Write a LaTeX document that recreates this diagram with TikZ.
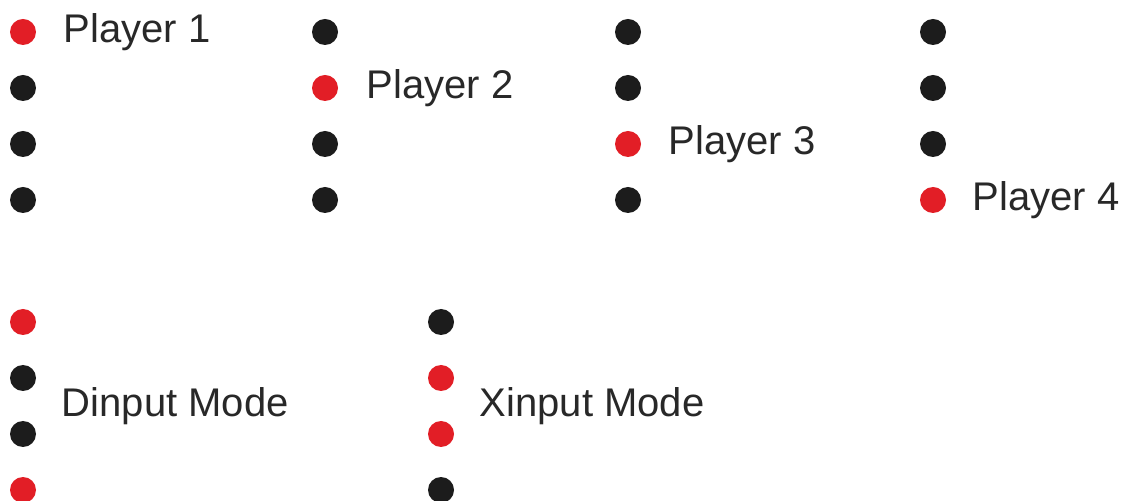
\documentclass[tikz,border=0pt]{standalone}
\usepackage{fontspec}
\setmainfont{Liberation Sans}
\usetikzlibrary{positioning}

\definecolor{ledred}{RGB}{226,30,38}
\definecolor{ledoff}{RGB}{28,28,28}
\definecolor{txt}{RGB}{40,40,40}

\tikzset{
  led/.style={circle,minimum size=13pt,inner sep=0pt},
  on/.style={led,fill=ledred},
  off/.style={led,fill=ledoff},
  lbl/.style={inner sep=0pt,text=txt,font=\fontsize{20}{22}\selectfont}
}

\begin{document}
\begin{tikzpicture}[x=1pt,y=1pt,node distance=28pt]
  \useasboundingbox (0,0) rectangle (561.5,-250.5);

  % player 1
  \node[on]  (p1a) at (11.5,-16) {};
  \node[off] (p1b) [below of=p1a] {};
  \node[off] (p1c) [below of=p1b] {};
  \node[off] (p1d) [below of=p1c] {};
  \node[lbl] (l1) [right=13.5pt of p1a] {Player 1};

  % player 2
  \node[off] (p2a) at (162.5,-16) {};
  \node[on]  (p2b) [below of=p2a] {};
  \node[off] (p2c) [below of=p2b] {};
  \node[off] (p2d) [below of=p2c] {};
  \node[lbl] (l2) [right=14pt of p2b] {Player 2};

  % player 3
  \node[off] (p3a) at (314,-16) {};
  \node[off] (p3b) [below of=p3a] {};
  \node[on]  (p3c) [below of=p3b] {};
  \node[off] (p3d) [below of=p3c] {};
  \node[lbl] (l3) [right=13.5pt of p3c] {Player 3};

  % player 4
  \node[off] (p4a) at (466.5,-16) {};
  \node[off] (p4b) [below of=p4a] {};
  \node[off] (p4c) [below of=p4b] {};
  \node[on]  (p4d) [below of=p4c] {};
  \node[lbl] (l4) [right=13pt of p4d] {Player 4};

  % dinput
  \node[on]  (da) at (11.5,-161) {};
  \node[off] (db) [below of=da] {};
  \node[off] (dc) [below of=db] {};
  \node[on]  (dd) [below of=dc] {};
  \node[lbl] (dl) [right=12.5pt of db,yshift=-14pt] {Dinput Mode};

  % xinput
  \node[off] (xa) at (220.5,-161) {};
  \node[on]  (xb) [below of=xa] {};
  \node[on]  (xc) [below of=xb] {};
  \node[off] (xd) [below of=xc] {};
  \node[lbl] (xl) [right=12.5pt of xb,yshift=-14pt] {Xinput Mode};

\end{tikzpicture}
\end{document}
